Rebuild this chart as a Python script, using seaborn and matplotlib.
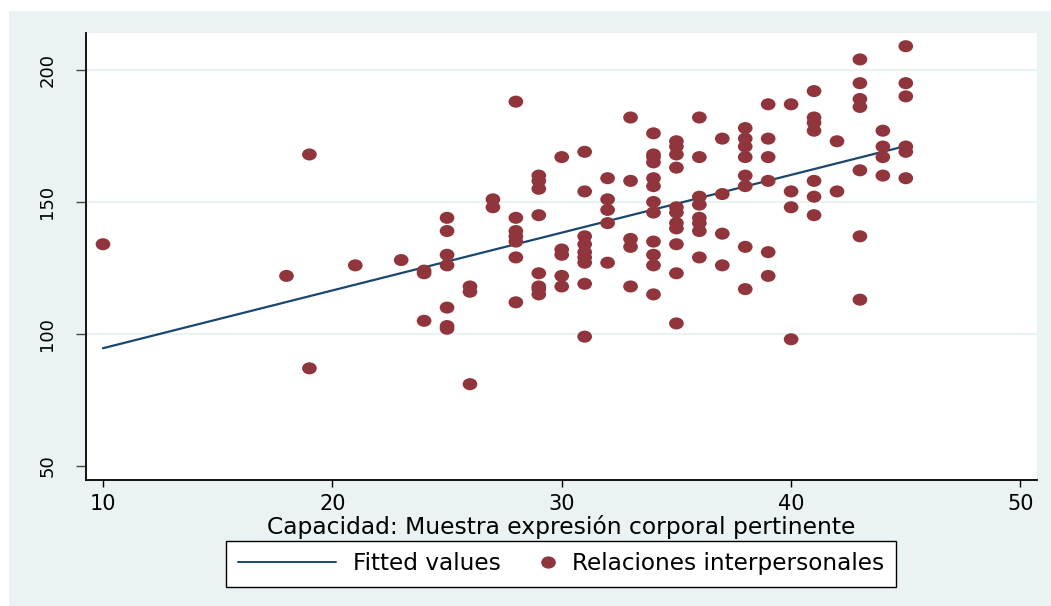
import numpy as np
import pandas as pd
import matplotlib
matplotlib.use("Agg")
import matplotlib.pyplot as plt
import seaborn as sns
from matplotlib.path import Path
from matplotlib.lines import Line2D
from matplotlib.patches import Rectangle
from matplotlib.legend_handler import HandlerLine2D

# Capacidad (x) and the Relaciones interpersonales scores seen at each x
capacidad = [10, 18, 19, 21, 23, 24, 25, 26, 27, 28, 29, 30, 31, 32, 33,
             34, 35, 36, 37, 38, 39, 40, 41, 42, 43, 44, 45]
relaciones = [
    [134],
    [122],
    [168, 87],
    [126],
    [128],
    [124, 123, 105],
    [144, 139, 130, 126, 110, 103, 102],
    [118, 116, 81],
    [151, 148],
    [188, 144, 139, 137, 135, 129, 112],
    [160, 158, 155, 145, 123, 118, 117, 115],
    [167, 132, 130, 122, 118],
    [169, 154, 137, 134, 131, 129, 127, 119, 99],
    [159, 151, 147, 142, 127],
    [182, 158, 136, 133, 118],
    [176, 168, 167, 165, 159, 156, 150, 146, 135, 130, 126, 115],
    [173, 171, 168, 163, 148, 146, 142, 140, 134, 123, 104],
    [182, 167, 152, 149, 144, 142, 139, 129],
    [174, 153, 138, 126],
    [178, 174, 171, 167, 160, 156, 133, 117],
    [187, 174, 167, 158, 131, 122],
    [187, 154, 148, 98],
    [192, 182, 180, 177, 158, 152, 145],
    [173, 154],
    [204, 195, 189, 186, 162, 137, 113],
    [177, 171, 167, 160],
    [209, 195, 190, 171, 169, 159],
]
xticks = [10, 20, 30, 40, 50]
yticks = [50, 100, 150, 200]

rows = [(c, r) for c, grp in zip(capacidad, relaciones) for r in grp]
df = pd.DataFrame(rows, columns=["capacidad", "relaciones"])

MAROON = "#90353B"
NAVY = "#1A476F"
BG = "#EAF2F3"

sns.set_theme(style="white")
plt.rcParams["font.family"] = ["DejaVu Sans"]
plt.rcParams["text.color"] = "black"
plt.rcParams["axes.labelcolor"] = "black"
plt.rcParams["xtick.color"] = "black"
plt.rcParams["ytick.color"] = "black"

W, H = 1051, 606
fig = plt.figure(figsize=(W / 100, H / 100), dpi=100)
fig.patch.set_facecolor("white")
# light stata-like graph region
fig.patches.append(Rectangle((9 / W, 0), 1, (H - 11) / H, transform=fig.transFigure,
                             facecolor=BG, edgecolor="none", zorder=-5))

ax = fig.add_axes([86 / W, 1 - 480 / H, (1037 - 86) / W, (480 - 33) / H])
ax.set_facecolor("white")
ax.set_zorder(1)

# slightly flattened dot like the original
circ = Path.unit_circle()
ell = Path(circ.vertices * np.array([1.0, 0.82]), circ.codes)

sns.regplot(data=df, x="capacidad", y="relaciones", scatter=False, ci=None, ax=ax,
            line_kws=dict(color=NAVY, lw=1.6, zorder=2))
sns.scatterplot(data=df, x="capacidad", y="relaciones", marker=ell, s=112,
                color=MAROON, edgecolor="none", linewidth=0, ax=ax, zorder=3)

ax.set_xlim(9.26, 50.72)
ax.set_ylim(44.7, 214)
ax.set_xticks(xticks)
ax.set_yticks(yticks)
ax.set_xlabel("Capacidad: Muestra expresión corporal pertinente", fontsize=16.8,
              labelpad=1, color="black")
ax.set_ylabel("")

for s in ["top", "right"]:
    ax.spines[s].set_visible(False)
for s in ["left", "bottom"]:
    ax.spines[s].set_color("black")
    ax.spines[s].set_linewidth(1.3)

ax.tick_params(axis="x", direction="out", length=5, width=1, color="black",
               labelsize=15, pad=5, bottom=True, labelcolor="black")
ax.tick_params(axis="y", direction="out", length=7.5, width=1, color="#444444",
               labelsize=13, pad=14, left=True, labelrotation=90, labelcolor="black")
for lab in ax.get_yticklabels():
    lab.set_va("center")

ax.grid(axis="y", color=BG, lw=1.5)
ax.grid(axis="x", visible=False)
ax.get_ygridlines()[0].set_visible(False)


class RightMarker(HandlerLine2D):
    # put the dot near the text instead of in the middle of the handle box
    def get_xdata(self, legend, xdescent, ydescent, width, height, fontsize):
        p = width - xdescent - 5.0
        return np.array([p, p]), np.array([p])


h_line = Line2D([], [], color=NAVY, lw=1.4)
h_dot = Line2D([], [], color=MAROON, marker=ell, ls="", markersize=9.5)
fs = 16.7
leg = fig.legend([h_line, h_dot], ["Fitted values", "Relaciones interpersonales"],
                 loc="lower center", bbox_to_anchor=(561 / W, 19 / H), ncol=2,
                 fontsize=fs, frameon=True, fancybox=False, framealpha=1,
                 edgecolor="black", borderaxespad=0, borderpad=0.5,
                 handlelength=70.6 / fs, handletextpad=12.2 / fs,
                 columnspacing=-31 / fs, handler_map={h_dot: RightMarker(numpoints=1)})
leg.get_frame().set_linewidth(1.0)
for t in leg.get_texts():
    t.set_color("black")

fig.savefig("out.png", dpi=100)
